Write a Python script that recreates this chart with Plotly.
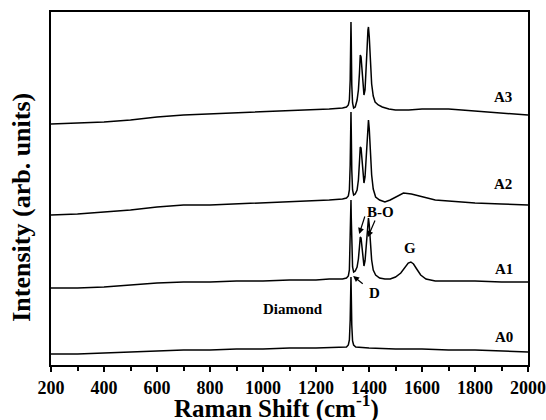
import plotly.graph_objects as go

# Raman shift sample points (cm^-1) and offset intensities (arb. units)
x_a3 = [200, 300, 400, 500, 600, 700, 800, 900, 1000, 1100, 1200, 1250, 1300, 1315, 1322, 1326, 1329, 1331, 1332,
        1333, 1335, 1338, 1342, 1348, 1355, 1360, 1364, 1367, 1370, 1373, 1377, 1381, 1385, 1389, 1393, 1396, 1398,
        1401, 1405, 1410, 1416, 1423, 1435, 1450, 1475, 1500, 1550, 1600, 1650, 1700, 1750, 1800, 1850, 1900, 1950, 2000]
y_a3 = [241, 242, 243, 245, 248, 250, 251, 252, 253, 254, 255, 256, 257, 258, 260, 265, 285, 330, 343,
        325, 280, 262, 257, 258, 265, 275, 292, 310, 308, 296, 278, 270, 275, 292, 318, 335, 338,
        328, 302, 281, 269, 263, 260, 258, 256, 255, 255, 256, 256, 256, 255, 254, 253, 252, 251, 250]

x_a2 = [200, 300, 400, 500, 600, 650, 700, 800, 900, 1000, 1100, 1200, 1250, 1300, 1315, 1322, 1326, 1329, 1331, 1332,
        1333, 1335, 1338, 1342, 1348, 1355, 1360, 1364, 1367, 1370, 1373, 1377, 1381, 1385, 1389, 1393, 1396, 1398,
        1401, 1405, 1410, 1416, 1425, 1440, 1460, 1480, 1500, 1530, 1560, 1600, 1650, 1700, 1800, 1900, 2000]
y_a2 = [150, 151, 153, 155, 158, 159, 160, 160, 161, 162, 163, 164, 165, 166, 167, 169, 175, 200, 240, 253,
        235, 195, 175, 170, 171, 175, 185, 203, 218, 217, 206, 190, 182, 188, 205, 228, 242, 245,
        236, 212, 190, 176, 168, 165, 163, 165, 168, 172, 171, 168, 165, 164, 162, 161, 160]

x_a1 = [200, 300, 400, 500, 600, 700, 800, 900, 1000, 1100, 1200, 1250, 1300, 1315, 1322, 1326, 1329, 1331, 1332,
        1333, 1335, 1338, 1342, 1348, 1355, 1360, 1364, 1367, 1370, 1373, 1377, 1381, 1385, 1389, 1393, 1396, 1398,
        1401, 1405, 1410, 1416, 1425, 1440, 1460, 1480, 1500, 1520, 1535, 1548, 1558, 1568, 1580, 1595, 1615, 1650,
        1700, 1800, 1900, 2000]
y_a1 = [77, 77, 78, 80, 82, 83, 83, 84, 84, 85, 85, 86, 86, 87, 89, 95, 120, 150, 165,
        148, 115, 98, 93, 94, 98, 106, 118, 128, 127, 118, 104, 99, 104, 118, 136, 146, 147,
        140, 122, 105, 95, 90, 87, 86, 86, 88, 92, 97, 102, 103, 101, 96, 90, 86, 84,
        84, 84, 83, 83]

x_a0 = [200, 300, 400, 500, 600, 700, 800, 900, 1000, 1100, 1200, 1300, 1315, 1322, 1326, 1329, 1331, 1332,
        1333, 1335, 1338, 1342, 1350, 1400, 1500, 1600, 1700, 1800, 1900, 2000]
y_a0 = [11, 11, 12, 13, 14, 15, 15, 16, 16, 17, 17, 18, 18, 20, 25, 45, 75, 88,
        72, 40, 24, 20, 18, 17, 16, 16, 15, 15, 14, 13]

series = [("A0", x_a0, y_a0), ("A1", x_a1, y_a1), ("A2", x_a2, y_a2), ("A3", x_a3, y_a3)]

# label text and anchor positions (data coords)
sample_labels = ["A3", "A2", "A1", "A0"]
sample_label_x = [1904, 1904, 1911, 1911]
sample_label_y = [268, 181, 96, 28]

FONT = "Liberation Serif, Times New Roman, serif"

fig = go.Figure()
for name, xs, ys in series:
    fig.add_trace(go.Scatter(x=xs, y=ys, mode="lines", name=name,
                             line=dict(color="black", width=1.5), showlegend=False))

ann = []
for t, ax_, ay_ in zip(sample_labels, sample_label_x, sample_label_y):
    ann.append(dict(x=ax_, y=ay_, text=t, showarrow=False,
                    font=dict(family=FONT, size=15, color="black", weight="bold")))

for t, ax_, ay_ in [("Diamond", 1114, 56), ("D", 1420, 72), ("G", 1556, 117), ("B-O", 1443, 153)]:
    ann.append(dict(x=ax_, y=ay_, text=t, showarrow=False,
                    font=dict(family=FONT, size=15, color="black", weight="bold")))

# arrows: (head x, head y, tail x, tail y)
for hx, hy, tx, ty in [(1363, 131, 1386, 150), (1396, 128, 1425, 146), (1340, 89, 1382, 80)]:
    ann.append(dict(x=hx, y=hy, ax=tx, ay=ty, xref="x", yref="y", axref="x", ayref="y",
                    text="", showarrow=True, arrowhead=2, arrowsize=1, arrowwidth=1.2,
                    arrowcolor="black"))

# axis titles
ann.append(dict(x=0.472, y=-0.118, xref="paper", yref="paper", xanchor="center", yanchor="middle",
                text="Raman Shift (cm<sup>-1</sup>)", showarrow=False,
                font=dict(family=FONT, size=25, color="black", weight="bold")))
ann.append(dict(x=-0.061, y=0.448, xref="paper", yref="paper", xanchor="center", yanchor="middle",
                text="Intensity (arb. units)", showarrow=False, textangle=-90,
                font=dict(family=FONT, size=26, color="black", weight="bold")))

fig.update_layout(
    width=546, height=420,
    margin=dict(l=51, r=18, t=12, b=55, autoexpand=False),
    paper_bgcolor="white", plot_bgcolor="white",
    annotations=ann,
    xaxis=dict(range=[200, 2000], dtick=200, tick0=200, showgrid=False, zeroline=False,
               showline=True, linecolor="black", linewidth=2, mirror=True,
               ticks="outside", ticklen=5, tickwidth=1.5, tickcolor="black",
               ticklabeloverflow="allow",
               minor=dict(ticks="outside", ticklen=4, dtick=100, tickcolor="black", tickwidth=1.5),
               tickfont=dict(family=FONT, size=18, color="black", weight="bold")),
    yaxis=dict(range=[0, 353], showgrid=False, zeroline=False, showticklabels=False,
               showline=True, linecolor="black", linewidth=2, mirror=True, ticks=""),
)

fig.write_html("out.html", config={"displayModeBar": False},
               post_script="document.body.style.margin='0px';document.body.style.overflow='hidden';")
